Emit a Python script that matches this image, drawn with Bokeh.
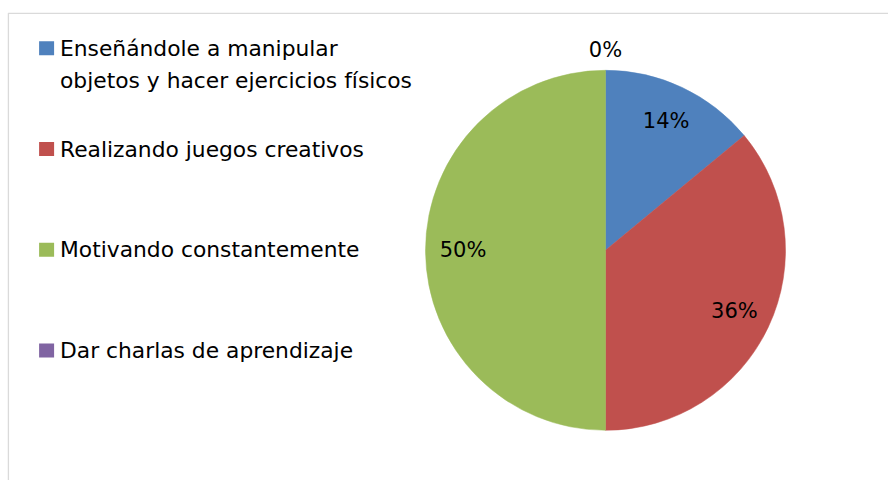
import math
from bokeh.plotting import figure
from bokeh.models import BoxAnnotation, ColumnDataSource
from bokeh.core.properties import value
from bokeh.embed import file_html
from bokeh.resources import INLINE

categories = [
    "Enseñándole a manipular\nobjetos y hacer ejercicios físicos",
    "Realizando juegos creativos",
    "Motivando constantemente",
    "Dar charlas de aprendizaje",
]
shares = [0.14, 0.36, 0.50, 0.00]
pct_labels = ["14%", "36%", "50%", "0%"]
colors = ["#4F81BD", "#C0504D", "#9BBB59", "#8064A2"]

FONT = "DejaVu Sans"
W, H = 888, 480
p = figure(width=W, height=H, x_range=(0, W), y_range=(0, H), min_border=0,
           output_backend="svg", toolbar_location=None)
p.axis.visible = False
p.grid.visible = False
p.outline_line_color = None
p.background_fill_color = "white"
p.border_fill_color = "white"

# chart area border (only top and left edges are visible in the reference)
p.add_layout(BoxAnnotation(left=7.9, top=467.2, right=W + 20, bottom=-20,
                           fill_alpha=0, line_color="#868686", line_width=1.3))

# pie
cx, cy, R = 605.0, 230.2, 180.0
starts, ends, mids = [], [], []
acc = 0.0
for s in shares:
    a0 = math.pi / 2 - acc * 2 * math.pi
    acc += s
    a1 = math.pi / 2 - acc * 2 * math.pi
    starts.append(a0); ends.append(a1); mids.append((a0 + a1) / 2)

nz = [i for i, s in enumerate(shares) if s > 0]
wsrc = ColumnDataSource(dict(x=[cx] * len(nz), y=[cy] * len(nz),
                             s=[starts[i] for i in nz], e=[ends[i] for i in nz],
                             c=[colors[i] for i in nz]))
p.wedge(x="x", y="y", radius=R, start_angle="s", end_angle="e",
        direction="clock", fill_color="c", line_color="c", line_width=0.5, source=wsrc)

lr = [142.5 if s > 0 else R + 20 for s in shares]
lsrc = ColumnDataSource(dict(
    x=[cx + r * math.cos(m) for r, m in zip(lr, mids)],
    y=[cy + r * math.sin(m) for r, m in zip(lr, mids)],
    t=pct_labels))
p.text(x="x", y="y", text="t", source=lsrc, text_font=value(FONT),
       text_font_size="21px", text_color="black", text_align="center",
       text_baseline="middle")

# legend
lx, ly0, step, line_step = 46.1, 432.3, 100.8, 32.5
ys = [ly0 - i * step for i in range(len(categories))]
p.rect(x=[lx] * len(categories), y=ys, width=15, height=14, fill_color=colors,
       line_color=None)
tx, ty, tt = [], [], []
for cat, y in zip(categories, ys):
    for k, line in enumerate(cat.split("\n")):
        tx.append(59.5); ty.append(y - k * line_step); tt.append(line)
p.text(x=tx, y=ty, text=tt, text_font=value(FONT), text_font_size="21.8px",
       text_color="black", text_align="left", text_baseline="middle")

open("out.html", "w").write(file_html(p, INLINE))
